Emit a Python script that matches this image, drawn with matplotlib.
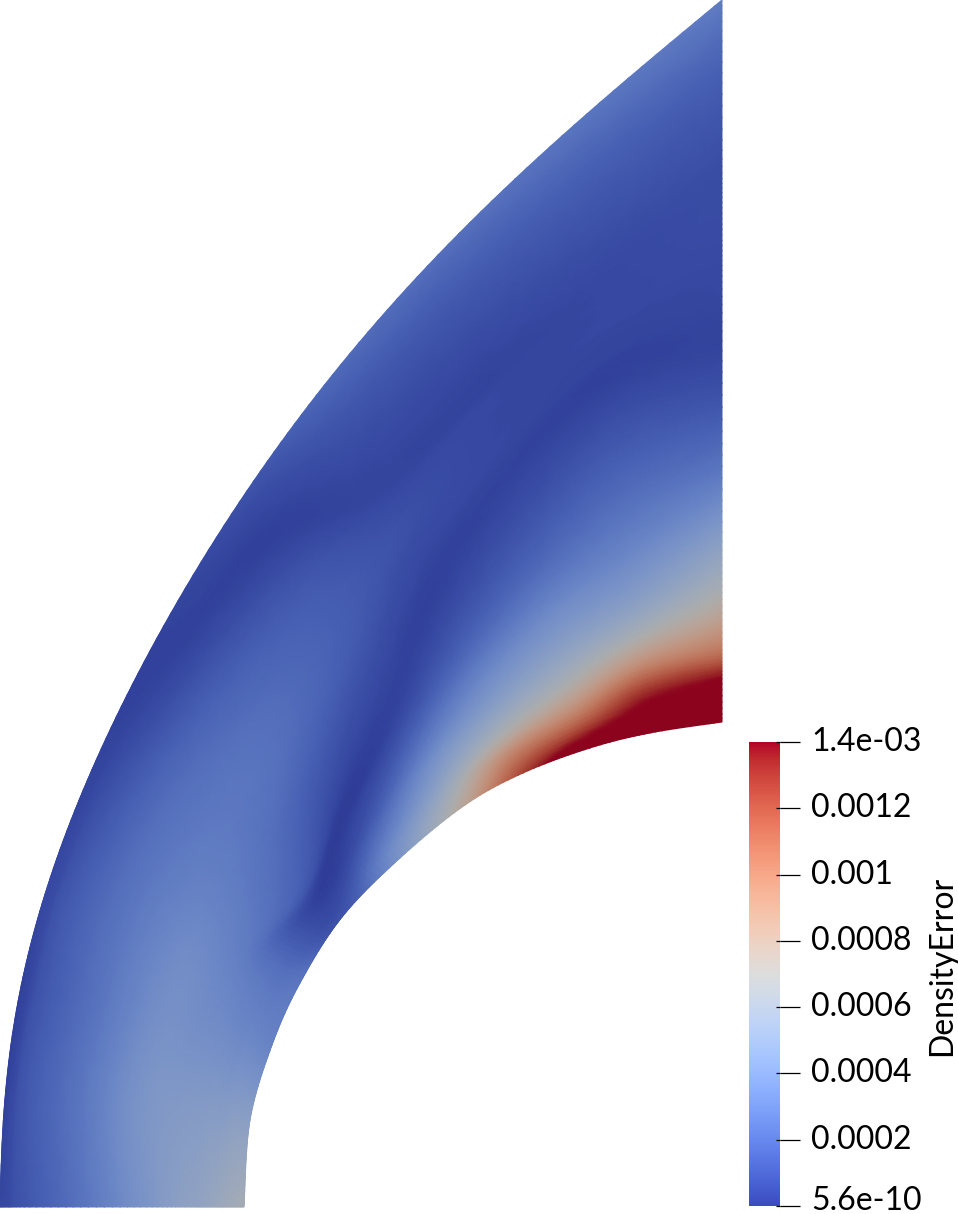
import numpy as np
import matplotlib
matplotlib.use("Agg")
import matplotlib.pyplot as plt
from matplotlib.colors import Normalize, ListedColormap
from matplotlib.cm import ScalarMappable
from matplotlib.transforms import ScaledTranslation
from numpy.polynomial import Polynomial

FONT = "Lato"

# Cross-sections of the domain, in picture units (inner wall -> outer boundary)
inner_x = [244, 250, 272, 300, 342, 400, 465, 523, 590, 650, 722]
inner_y = [1207, 1120, 1045, 983, 917, 858, 805, 773, 748, 733, 722]
outer_y = [1207, 1090, 985, 895, 780, 650, 502, 385, 255, 125, 0]

# Outer boundary
rim_y = [0, 100, 200, 280, 403, 502, 560, 633, 700, 850, 950, 1050, 1130, 1207]
rim_x = [722, 600, 497, 413, 310, 240, 200, 160, 127, 60, 28, 10, 3, 0]
rim_weight = [4, 1, 1, 1, 1, 1, 1, 1, 1, 1, 1, 2, 3, 6]

# Radial fraction of each sample, section by section; same index = same flow feature
radial_0 = [0, .03, .06, .09, .12, .16, .20, .28, .45, .70, .92, .97, 1]
radial_1 = [0, .03, .06, .09, .12, .16, .20, .28, .45, .70, .92, .97, 1]
radial_2 = [0, .03, .06, .09, .12, .16, .20, .28, .45, .70, .92, .97, 1]
radial_3 = [0, .03, .06, .09, .12, .16, .20, .28, .45, .70, .92, .97, 1]
radial_4 = [0, .02, .04, .06, .08, .10, .13, .20, .45, .70, .92, .97, 1]
radial_5 = [0, .04, .08, .12, .15, .19, .23, .30, .50, .70, .90, .96, 1]
radial_6 = [0, .05, .10, .15, .20, .27, .33, .43, .55, .70, .86, .94, 1]
radial_7 = [0, .05, .10, .16, .23, .33, .45, .54, .62, .68, .75, .90, 1]
radial_8 = [0, .06, .12, .18, .26, .38, .53, .60, .65, .70, .75, .90, 1]
radial_9 = [0, .06, .12, .18, .26, .38, .56, .62, .66, .70, .76, .90, 1]
radial_10 = [0, .06, .10, .17, .25, .37, .50, .60, .66, .72, .78, .90, 1]

# DensityError in units of 1e-4 at those samples
section_0 = [6.5, 6.4, 6.2, 6.0, 5.8, 5.5, 5.3, 5.0, 3.9, 2.2, 1.0, 0.6, 0.5]
section_1 = [5.0, 5.0, 5.0, 4.9, 4.8, 4.8, 4.7, 4.6, 4.2, 2.5, 1.2, 0.6, 0.3]
section_2 = [3.2, 3.3, 3.4, 3.5, 3.5, 3.6, 3.7, 3.8, 3.9, 2.4, 1.1, 0.5, 0.3]
section_3 = [2.6, 2.5, 2.4, 2.4, 2.5, 2.6, 2.8, 3.2, 3.6, 2.5, 1.2, 0.7, 0.5]
section_4 = [1.0, 0.8, 0.6, 0.5, 0.4, 0.3, 0.5, 1.8, 2.8, 2.3, 0.9, 0.5, 0.4]
section_5 = [4.2, 3.6, 2.6, 1.6, 0.9, 0.4, 0.1, 0.9, 2.3, 1.9, 0.5, 0.3, 0.3]
section_6 = [8.0, 6.5, 5.0, 3.8, 2.4, 0.9, 0.3, 0.8, 1.5, 1.3, 0.3, 0.5, 0.9]
section_7 = [12.5, 10.0, 7.0, 5.0, 3.4, 1.4, 0.3, 0.6, 0.9, 0.7, 0.4, 1.0, 1.9]
section_8 = [16.0, 11.0, 7.5, 5.5, 3.8, 1.7, 0.4, 0.5, 0.5, 0.5, 0.4, 1.2, 2.2]
section_9 = [16.0, 13.5, 9.0, 6.0, 4.0, 2.2, 0.4, 0.4, 0.5, 0.5, 0.6, 1.4, 2.5]
section_10 = [16.0, 14.0, 10.5, 7.2, 5.0, 2.2, 0.5, 0.5, 0.6, 0.7, 0.8, 1.5, 2.8]

bar_ticks = [5.6e-10, 2e-4, 4e-4, 6e-4, 8e-4, 1e-3, 1.2e-3, 1.4e-3]
bar_labels = ["5.6e-10", "0.0002", "0.0004", "0.0006", "0.0008", "0.001", "0.0012", "1.4e-03"]
bar_title = "DensityError"


def spline(values, axis, factor):
    """Uniform Catmull-Rom resampling along one axis."""
    values = np.moveaxis(np.asarray(values, dtype=float), axis, 0)
    n = values.shape[0]
    u = np.linspace(0, n - 1, (n - 1) * factor + 1)
    i = np.minimum(u.astype(int), n - 2)
    f = (u - i).reshape((-1,) + (1,) * (values.ndim - 1))
    p0 = values[np.maximum(i - 1, 0)]
    p1 = values[i]
    p2 = values[i + 1]
    p3 = values[np.minimum(i + 2, n - 1)]
    out = 0.5 * (2 * p1 + (p2 - p0) * f + (2 * p0 - 5 * p1 + 4 * p2 - p3) * f ** 2
                 + (3 * p1 - p0 - 3 * p2 + p3) * f ** 3)
    return np.moveaxis(out, 0, axis)


W, H = 958, 1214
fig = plt.figure(figsize=(W / 100, H / 100), dpi=100, facecolor="white")
ax = fig.add_axes([0, 0, 1, 1])
ax.set_xlim(0, W)
ax.set_ylim(H, 0)
ax.axis("off")

sections = np.array([section_0, section_1, section_2, section_3, section_4, section_5,
                     section_6, section_7, section_8, section_9, section_10])
radials = np.array([radial_0, radial_1, radial_2, radial_3, radial_4, radial_5,
                    radial_6, radial_7, radial_8, radial_9, radial_10])
FS, FR = 12, 8
field = spline(spline(sections, 0, FS), 1, FR)
T = np.clip(spline(spline(radials, 0, FS), 1, FR), 0, 1)

xi, yi = [spline(a, 0, FS) for a in (inner_x, inner_y)]
yo = spline(outer_y, 0, FS)
rim = Polynomial.fit(rim_y, rim_x, 6, w=rim_weight)
xo = np.clip(rim(yo), 0, 722)
X = xi[:, None] + T * (xo - xi)[:, None]
Y = yi[:, None] + T * (yo - yi)[:, None]

# The surface is lit in the render, so it appears darker than the colour bar
base = plt.get_cmap("coolwarm")
lit = ListedColormap(base(np.linspace(0, 1, 256))[:, :3] * 0.78)
ax.pcolormesh(X, Y, np.clip(field, 0, 14) * 1e-4, cmap=lit, vmin=5.6e-10, vmax=1.4e-3,
              shading="gouraud", rasterized=True)

# Colour bar
cax = fig.add_axes([749 / W, 1 - 1206 / H, 31 / W, 464 / H])
sm = ScalarMappable(norm=Normalize(5.6e-10, 1.4e-3), cmap=base)
cb = fig.colorbar(sm, cax=cax)
cb.outline.set_visible(False)
cb.set_ticks(bar_ticks, labels=bar_labels)
cax.yaxis.remove_overlapping_locs = False
cax.set_yticks(bar_ticks, minor=True)
cax.tick_params(axis="y", which="major", direction="out", length=14.4, width=0.9,
                color="black", pad=8, labelsize=23, labelcolor="black")
cax.tick_params(axis="y", which="minor", direction="in", length=2.9, width=0.9, color="black")
for k, lab in enumerate(cax.get_yticklabels()):
    lift = (8 if k == 0 else 3) / fig.dpi
    lab.set_fontfamily(FONT)
    lab.set_transform(lab.get_transform() + ScaledTranslation(0, lift, fig.dpi_scale_trans))

fig.text(942 / W, 1 - 966 / H, bar_title, rotation=90, ha="center", va="center",
         fontsize=23, family=FONT, color="black")

fig.savefig("out.png", dpi=100, facecolor="white")
